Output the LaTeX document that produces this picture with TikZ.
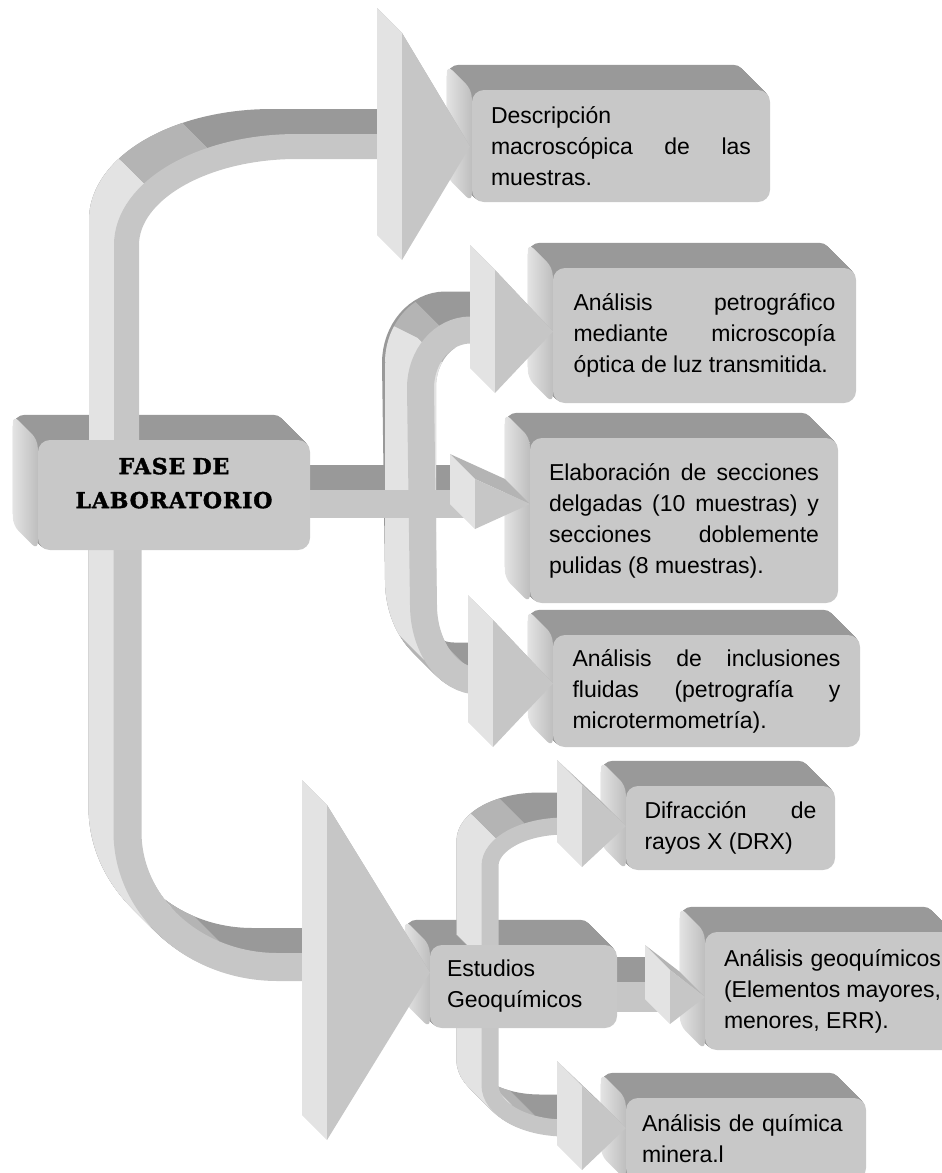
\documentclass[tikz,border=0pt]{standalone}
\usepackage{fontspec}
\setmainfont{Liberation Sans}
\newfontfamily\fasefont[LetterSpace=4, BoldFeatures={FakeBold=1.6}]{DejaVu Serif}
\usepackage{tikz}
\definecolor{fl_box}{HTML}{C8C8C8}
\definecolor{fl_front}{HTML}{C6C6C6}
\definecolor{fl_light}{HTML}{E3E3E3}
\definecolor{fl_side}{HTML}{BEBEBE}
\definecolor{fl_mid}{HTML}{B4B4B4}
\definecolor{fl_dark}{HTML}{999999}
\pgfdeclarelayer{back}
\pgfdeclarelayer{mid}
\pgfsetlayers{back,mid,main}
\hbadness=10000

\newcommand\boxsides[1]{%
  \foreach \t in {1,...,25}
    \fill[fl_dark, rounded corners=12] ([shift={(-\t,-\t)}]#1.north west) rectangle ([shift={(-\t,-\t)}]#1.south east);
  \shade[left color=fl_light, right color=fl_side, rounded corners=8]
    ([shift={(-25,-25)}]#1.north west) -- (#1.north west) -- (#1.south west) -- ([shift={(-25,-25)}]#1.south west) -- cycle;
}
\newcommand\band[4]{%
  \foreach \t in {1,...,25} \draw[fl_dark, line width=#1, shift={(-\t,-\t)}] #2;
  \foreach \t in {1,...,25} \draw[fl_mid, line width=#1, shift={(-\t,-\t)}] #3;
  \foreach \t in {1,...,25} \draw[fl_light, line width=#1, shift={(-\t,-\t)}] #4;
  \draw[fl_front, line width=#1] #2;
}
\newcommand\head[4]{%
  \fill[fl_mid] (#1-25,#2-25) -- (#1,#2) -- (#4,{(#2+#3)/2}) -- (#4-25,{(#2+#3)/2-25}) -- cycle;
  \fill[fl_light] (#1-25,#2-25) -- (#1,#2) -- (#1,#3) -- (#1-25,#3-25) -- cycle;
  \fill[fl_front] (#1,#2) -- (#4,{(#2+#3)/2}) -- (#1,#3) -- cycle;
}

\begin{document}
\begin{tikzpicture}[x=1pt, y=-1pt,
    box/.style={fill=fl_box, rounded corners=12, inner sep=0pt, align=justify,
      font=\fontsize{23}{31}\selectfont}]
  \useasboundingbox (0,0) rectangle (942,1173);

  \node[box, minimum width=272, minimum height=110, text width=260, align=center, text depth=58,
    font=\fasefont\bfseries\fontsize{22}{34}\selectfont] (fase) at (174,495) {FASE DE\\LABORATORIO};
  \node[box, minimum width=298, minimum height=112, text width=260] (desc) at (621,146)
    {Descripción\linebreak macroscópica de las\linebreak muestras.};
  \node[box, minimum width=303, minimum height=135, text width=262] (petro) at (704.5,335.5)
    {Análisis petrográfico\linebreak mediante microscopía\linebreak óptica de luz transmitida.};
  \node[box, minimum width=308, minimum height=165, text width=270] (elab) at (684,520.5)
    {Elaboración de secciones\linebreak delgadas (10 muestras) y\linebreak secciones doblemente\linebreak pulidas (8 muestras).};
  \node[box, minimum width=307, minimum height=112, text width=268] (incl) at (706.5,691)
    {Análisis de inclusiones\linebreak fluidas (petrografía y\linebreak microtermometría).};
  \node[box, minimum width=187, minimum height=83, text width=153, align=left] (estud) at (523.5,986.5)
    {Estudios\\Geoquímicos};
  \node[box, minimum width=209, minimum height=84, text width=172] (drx) at (730.5,828)
    {Difracción de\linebreak rayos X (DRX)};
  \node[box, minimum width=255, minimum height=118, text width=217] (geoq) at (832.5,991)
    {Análisis geoquímicos\linebreak (Elementos mayores,\linebreak menores, ERR).};
  \node[box, minimum width=240, minimum height=82, text width=208, align=left] (quim) at (746,1139)
    {Análisis de química\\minera.l};

  \begin{pgfonlayer}{back}
    \foreach \b in {fase,desc,petro,elab,incl,estud,drx,geoq,quim} {\boxsides{\b}}
  \end{pgfonlayer}

  \begin{pgfonlayer}{mid}
    \band{25}{(126.5,520) -- (126.5,245) arc[start angle=180, end angle=270, x radius=170.5, y radius=98.5] -- (404,146.5)}
      {(126.5,520) -- (126.5,245) arc[start angle=180, end angle=240, x radius=170.5, y radius=98.5]}
      {(126.5,520) -- (126.5,245) arc[start angle=180, end angle=212, x radius=170.5, y radius=98.5]}
    \head{402}{33}{260}{470}

    \band{28}{(127.5,520) -- (127.5,832) arc[start angle=180, end angle=90, x radius=150, y radius=135] -- (330,967)}
      {(127.5,520) -- (127.5,832) arc[start angle=180, end angle=115, x radius=150, y radius=135]}
      {(127.5,520) -- (127.5,832) arc[start angle=180, end angle=140, x radius=150, y radius=135]}
    \head{327}{805}{1140}{430}

    \foreach \t in {1,...,25} \draw[fl_dark, line width=28, shift={(-\t,-\t)}] (250,504) -- (477,504);

    \band{27}{(497,330) -- (470.5,330) arc[start angle=270, end angle=180, x radius=50, y radius=58] -- (423.5,605) arc[start angle=180, end angle=90, x radius=55, y radius=76] -- (497,681)}
      {(423.5,388) arc[start angle=180, end angle=240, x radius=50, y radius=58] (423.5,388) -- (423.5,605) arc[start angle=180, end angle=115, x radius=55, y radius=76]}
      {(423.5,388) arc[start angle=180, end angle=212, x radius=50, y radius=58] (423.5,388) -- (423.5,605) arc[start angle=180, end angle=140, x radius=55, y radius=76]}
    \head{495}{270}{393}{553}
    \head{493}{620}{747}{553}

    \draw[fl_front, line width=28] (250,504) -- (477,504);
    \head{475}{479}{529}{530}

    \band{17}{(490,960) -- (490,866) arc[start angle=180, end angle=270, x radius=75, y radius=40] -- (584,826)}
      {(490,960) -- (490,866) arc[start angle=180, end angle=240, x radius=75, y radius=40]}
      {(490,960) -- (490,866) arc[start angle=180, end angle=212, x radius=75, y radius=40]}
    \head{582}{785}{867}{626}

    \band{17}{(490,1000) -- (490,1085) arc[start angle=180, end angle=90, x radius=75, y radius=43] -- (584,1128)}
      {(490,1000) -- (490,1085) arc[start angle=180, end angle=115, x radius=75, y radius=43]}
      {(490,1000) -- (490,1085) arc[start angle=180, end angle=140, x radius=75, y radius=43]}
    \head{582}{1086}{1170}{626}

    \foreach \t in {1,...,25} \draw[fl_dark, line width=30, shift={(-\t,-\t)}] (600,997) -- (672,997);
    \draw[fl_front, line width=30] (600,997) -- (672,997);
    \head{670}{970}{1024}{705}
  \end{pgfonlayer}
\end{tikzpicture}
\end{document}
